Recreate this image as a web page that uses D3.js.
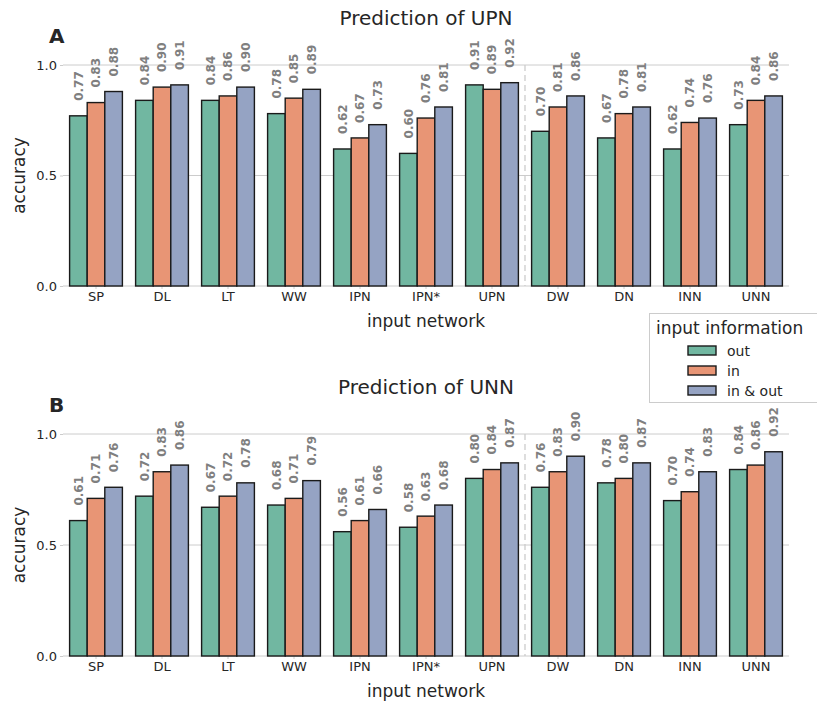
<!DOCTYPE html>
<html><head><meta charset="utf-8">
<script src="https://cdn.jsdelivr.net/npm/d3@7"></script>
<style>body{margin:0;background:#fff}svg{display:block;font-family:"DejaVu Sans",sans-serif}</style>
</head><body><svg id="c" width="817" height="703"></svg>
<script>
const categories = ["SP","DL","LT","WW","IPN","IPN*","UPN","DW","DN","INN","UNN"];
const seriesNames = ["out","in","in & out"];
const upnOut   = [0.77,0.84,0.84,0.78,0.62,0.60,0.91,0.70,0.67,0.62,0.73];
const upnIn    = [0.83,0.90,0.86,0.85,0.67,0.76,0.89,0.81,0.78,0.74,0.84];
const upnInOut = [0.88,0.91,0.90,0.89,0.73,0.81,0.92,0.86,0.81,0.76,0.86];
const unnOut   = [0.61,0.72,0.67,0.68,0.56,0.58,0.80,0.76,0.78,0.70,0.84];
const unnIn    = [0.71,0.83,0.72,0.71,0.61,0.63,0.84,0.83,0.80,0.74,0.86];
const unnInOut = [0.76,0.86,0.78,0.79,0.66,0.68,0.87,0.90,0.87,0.83,0.92];
const yTicks = [0.0,0.5,1.0];
const colors = ["#71b7a1","#e89575","#95a3c3"];

const svg = d3.select("#c");
const x = d3.scaleBand().domain(categories).range([63,789]).paddingInner(0).paddingOuter(0);
const sub = d3.scaleBand().domain(seriesNames).range([0, x.bandwidth()*0.8]);

function panel(title, letter, data, yTop, yBottom, titleY, letterY) {
  const y = d3.scaleLinear().domain([0,1]).range([yBottom, yTop]);
  const g = svg.append("g");
  g.selectAll(".grid").data(yTicks).join("line")
    .attr("x1",63).attr("x2",789).attr("y1",d=>y(d)).attr("y2",d=>y(d))
    .attr("stroke","#cccccc").attr("stroke-width",1);
  const ya = d3.axisLeft(y).tickValues(yTicks).tickFormat(d3.format(".1f")).tickSize(3).tickPadding(3);
  const yg = g.append("g").attr("transform","translate(63,0)").call(ya);
  yg.select(".domain").remove();
  yg.selectAll("line").attr("stroke","#cccccc");
  yg.selectAll("text").attr("font-size",13).attr("fill","#262626").attr("font-family","DejaVu Sans");
  const xa = d3.axisBottom(x).tickSize(3).tickPadding(3);
  const xg = g.append("g").attr("transform",`translate(0,${yBottom})`).call(xa);
  xg.select(".domain").remove();
  xg.selectAll("line").attr("stroke","#cccccc");
  xg.selectAll("text").attr("font-size",13).attr("fill","#262626").attr("font-family","DejaVu Sans");
  g.append("line").attr("x1",x("DW")).attr("x2",x("DW")).attr("y1",y(1)).attr("y2",yBottom)
    .attr("stroke","#cccccc").attr("stroke-width",1.3).attr("stroke-dasharray","6,4");
  const off = x.bandwidth()*0.1;
  data.forEach((vals, si) => {
    g.selectAll(".b"+si).data(vals).join("rect")
      .attr("x",(d,i)=>x(categories[i])+off+sub(seriesNames[si]))
      .attr("width",sub.bandwidth())
      .attr("y",d=>y(d)).attr("height",d=>yBottom-y(d))
      .attr("fill",colors[si]).attr("stroke","#1a1a1a").attr("stroke-width",1.4);
    g.selectAll(".t"+si).data(vals).join("text")
      .attr("transform",(d,i)=>`translate(${x(categories[i])+off+sub(seriesNames[si])+sub.bandwidth()/2},${y(d)-15}) rotate(-90)`)
      .attr("dy","0.35em").attr("text-anchor","start")
      .attr("font-size",12).attr("font-weight","bold").attr("fill","#7f7f7f")
      .text(d=>d.toFixed(2));
  });
  g.append("text").attr("x",426).attr("y",titleY).attr("text-anchor","middle")
    .attr("font-size",20).attr("fill","#262626").text(title);
  g.append("text").attr("x",49).attr("y",letterY).attr("font-size",20).attr("font-weight","bold")
    .attr("fill","#262626").text(letter);
  g.append("text").attr("x",426).attr("y",yBottom+41).attr("text-anchor","middle")
    .attr("font-size",17).attr("fill","#262626").text("input network");
  g.append("text").attr("transform",`translate(25,${(yTop+yBottom)/2}) rotate(-90)`)
    .attr("text-anchor","middle").attr("font-size",17).attr("fill","#262626").text("accuracy");
}

panel("Prediction of UPN","A",[upnOut,upnIn,upnInOut],65,286,25,43);
panel("Prediction of UNN","B",[unnOut,unnIn,unnInOut],434,656,394,412);

const lg = svg.append("g");
lg.append("rect").attr("x",649.5).attr("y",313.5).attr("width",180).attr("height",89)
  .attr("fill","#fff").attr("stroke","#cccccc").attr("stroke-width",1);
lg.append("text").attr("x",656).attr("y",334).attr("font-size",17).attr("fill","#262626").text("input information");
seriesNames.forEach((s,i)=>{
  lg.append("rect").attr("x",688).attr("y",346+i*20).attr("width",28).attr("height",9)
    .attr("fill",colors[i]).attr("stroke","#1a1a1a").attr("stroke-width",1.4);
  lg.append("text").attr("x",727).attr("y",351+i*20).attr("dy","0.35em").attr("font-size",14)
    .attr("fill","#262626").text(s);
});
</script></body></html>
